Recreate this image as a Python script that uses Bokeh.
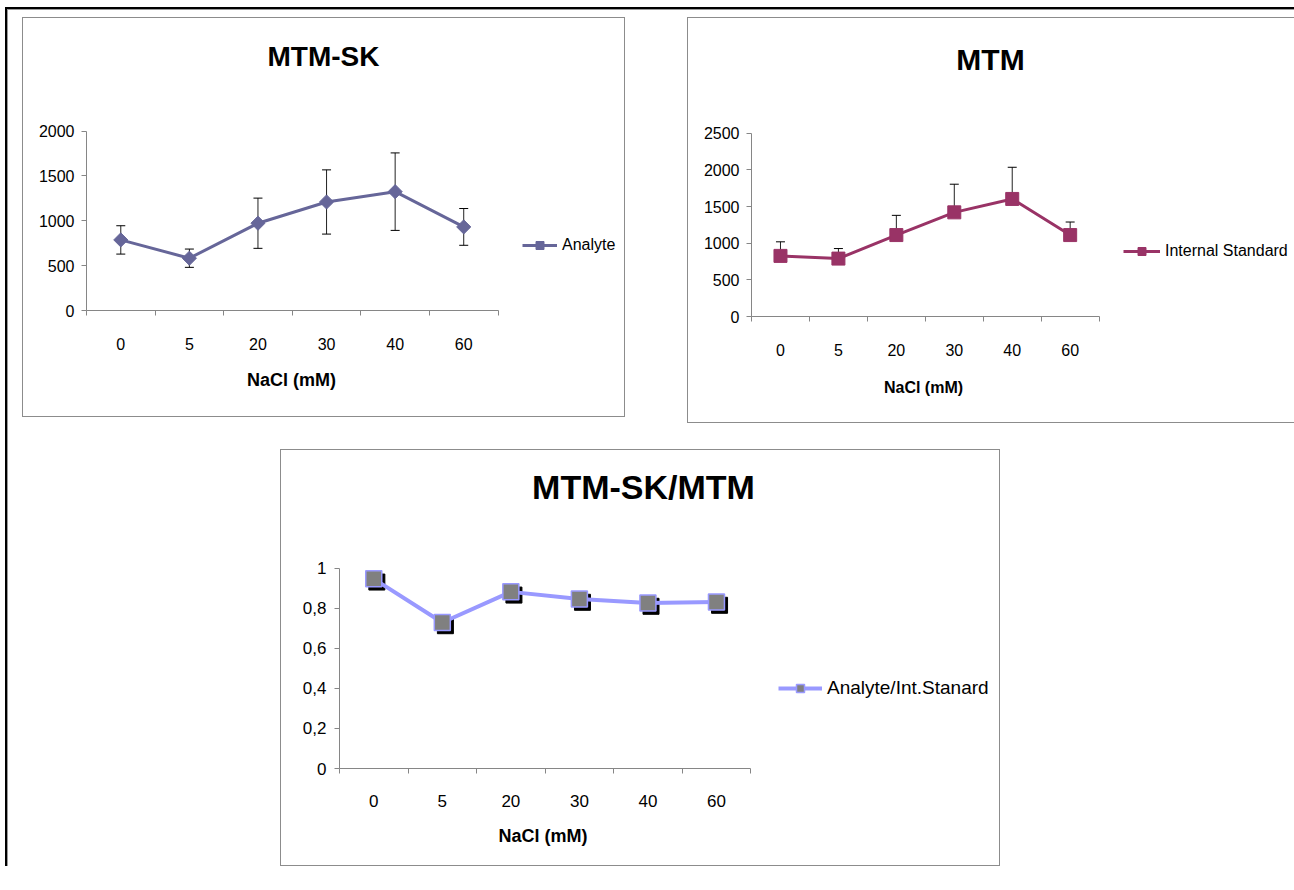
import numpy as np
from bokeh.plotting import figure
from bokeh.models import (Range1d, FixedTicker, ColumnDataSource, Whisker, TeeHead,
                          Legend, LegendItem, Label)
from bokeh.layouts import column, row
from bokeh.transform import dodge
from bokeh.embed import file_html
from bokeh.resources import INLINE

# ---------------- data ----------------
categories = ["0", "5", "20", "30", "40", "60"]
analyte = [787, 583, 973, 1210, 1325, 932]
analyte_err = [158, 102, 280, 358, 432, 205]
internal_std = [827, 790, 1111, 1421, 1604, 1111]
internal_err = [192, 137, 269, 384, 432, 178]
ratio = [0.947, 0.729, 0.882, 0.846, 0.826, 0.831]
ratio_ticks = [0, 0.2, 0.4, 0.6, 0.8, 1]
ratio_tick_labels = ["0", "0,2", "0,4", "0,6", "0,8", "1"]
analyte_ticks = [0, 500, 1000, 1500, 2000]
internal_ticks = [0, 500, 1000, 1500, 2000, 2500]
x_title = "NaCl (mM)"

FONT = "'Liberation Sans', Arial, sans-serif"
AX = "#868686"
PANEL_BORDER = "1px solid #8c8c8c"
NBSP = "\u00a0"

xs = [i + 0.5 for i in range(len(categories))]
bounds = list(range(len(categories) + 1))
ncat = len(categories)


def make_fig(width, height, left, bottom, axis_px_w, axis_px_h, y_max, yticks, css,
             tick_size, label_size, xl_standoff, xa_standoff, yl_standoff, label_pad):
    """Frame spans the panel to the right and top; the axes are bounded to the data part."""
    canvas_w = width - (2 if "border" in css else 1)
    canvas_h = height - 2
    frame_w = canvas_w - left
    frame_h = canvas_h - bottom
    x_end = ncat * frame_w / axis_px_w
    y_end = y_max * frame_h / axis_px_h
    p = figure(width=width, height=height, min_border_left=left, min_border_right=0,
               min_border_top=0, min_border_bottom=bottom,
               x_range=Range1d(0, x_end), y_range=Range1d(0, y_end),
               toolbar_location=None, output_backend="svg", tools="")
    p.outline_line_color = None
    p.grid.visible = False
    p.background_fill_color = "white"
    p.border_fill_color = "white"
    p.styles = css
    xa = p.xaxis[0]
    xa.bounds = (0, ncat)
    xa.ticker = FixedTicker(ticks=xs, minor_ticks=bounds)
    xa.major_label_overrides = {x: c for x, c in zip(xs, categories)}
    xa.major_tick_out = 0
    xa.major_tick_in = 0
    xa.minor_tick_out = 5
    xa.minor_tick_in = 0
    xa.minor_tick_line_color = AX
    xa.axis_line_color = AX
    xa.major_label_text_font = FONT
    xa.major_label_text_font_size = tick_size
    xa.major_label_text_color = "black"
    xa.major_label_standoff = xl_standoff
    # trailing no-break spaces keep the title centred under the bounded axis
    xa.axis_label = x_title + NBSP * label_pad
    xa.axis_label_text_font = FONT
    xa.axis_label_text_font_style = "bold"
    xa.axis_label_text_font_size = label_size
    xa.axis_label_text_color = "black"
    xa.axis_label_standoff = xa_standoff
    ya = p.yaxis[0]
    ya.bounds = (0, y_max)
    ya.ticker = FixedTicker(ticks=yticks, minor_ticks=[])
    ya.major_tick_out = 5
    ya.major_tick_in = 0
    ya.major_tick_line_color = AX
    ya.minor_tick_line_color = None
    ya.axis_line_color = AX
    ya.major_label_text_font = FONT
    ya.major_label_text_font_size = tick_size
    ya.major_label_text_color = "black"
    ya.major_label_standoff = yl_standoff
    return p


def add_title(p, text, x, y, size):
    p.add_layout(Label(x=x, y=y, x_units="screen", y_units="screen", text=text,
                       text_font=FONT, text_font_style="bold", text_font_size=size,
                       text_align="center", text_baseline="middle", text_color="black"))


def add_legend(p, items, x, y, glyph_width, size):
    lg = Legend(items=items, location=(x, y), padding=0, margin=0, spacing=0,
                glyph_width=glyph_width, glyph_height=20, label_height=20,
                label_standoff=5, border_line_color=None, background_fill_alpha=0,
                label_text_font=FONT, label_text_font_size=size,
                label_text_color="black")
    p.add_layout(lg, "center")


# ---------------- panel 1: MTM-SK ----------------
p1 = make_fig(603, 400, 63, 105, 410, 180, 2000, analyte_ticks,
              {"border": PANEL_BORDER}, "16px", "18px", 22, 17, 7, 26)
src1 = ColumnDataSource(dict(x=xs, y=analyte,
                             lo=[v - e for v, e in zip(analyte, analyte_err)],
                             hi=[v + e for v, e in zip(analyte, analyte_err)]))
l1 = p1.line("x", "y", source=src1, line_color="#666699", line_width=3)
m1 = p1.scatter("x", "y", source=src1, marker="square", angle=np.pi / 4, size=10,
                fill_color="#666699", line_color="#666699")
p1.add_layout(Whisker(source=src1, base="x", lower="lo", upper="hi", dimension="height",
                      line_color="#222222", line_width=1,
                      upper_head=TeeHead(size=9, line_color="black", line_width=1),
                      lower_head=TeeHead(size=9, line_color="black", line_width=1)))
add_title(p1, "MTM-SK", 237, 254, "28px")
add_legend(p1, [LegendItem(label="Analyte", renderers=[l1, m1])], 436, 55, 35, "16px")

# ---------------- panel 2: MTM ----------------
p2 = make_fig(607, 406, 63, 108, 347, 182, 2500, internal_ticks,
              {"border-left": PANEL_BORDER, "border-top": PANEL_BORDER,
               "border-bottom": PANEL_BORDER},
              "16px", "16px", 22, 20, 7, 45)
src2 = ColumnDataSource(dict(x=xs, y=internal_std,
                             hi=[v + e for v, e in zip(internal_std, internal_err)]))
p2.add_layout(Whisker(source=src2, base="x", lower="y", upper="hi", dimension="height",
                      line_color="#222222", line_width=1, level="underlay",
                      upper_head=TeeHead(size=9, line_color="black", line_width=1),
                      lower_head=None))
l2 = p2.line("x", "y", source=src2, line_color="#993366", line_width=3)
m2 = p2.scatter("x", "y", source=src2, marker="square", size=13,
                fill_color="#993366", line_color="#993366")
add_title(p2, "MTM", 239, 257, "30px")
add_legend(p2, [LegendItem(label="Internal Standard", renderers=[l2, m2])], 372, 55, 37, "16px")

# ---------------- panel 3: MTM-SK/MTM ----------------
p3 = make_fig(720, 417, 58, 99, 410, 199, 1, ratio_ticks,
              {"border": PANEL_BORDER}, "17px", "18px", 21, 16, 8, 51)
p3.yaxis[0].major_label_overrides = {t: s for t, s in zip(ratio_ticks, ratio_tick_labels)}
src3 = ColumnDataSource(dict(x=xs, y=ratio))
p3.scatter(dodge("x", 0.045), dodge("y", -0.016), source=src3, marker="square", size=16,
           fill_color="black", line_color="black")
l3 = p3.line("x", "y", source=src3, line_color="#9999FF", line_width=4)
m3 = p3.scatter("x", "y", source=src3, marker="square", size=16,
                fill_color="#808080", line_color="#9999FF", line_width=1.5)
add_title(p3, "MTM-SK/MTM", 304, 282, "34px")
add_legend(p3, [LegendItem(label="Analyte/Int.Stanard", renderers=[l3, m3])], 439, 69, 44, "19px")

# ---------------- layout ----------------
p1.margin = (8, 0, 0, 15)
p2.margin = (8, 0, 0, 62)
p3.margin = (26, 0, 0, 273)
root = column(row(p1, p2), p3, margin=(7, 0, 0, 5),
              styles={"border-top": "2px solid black", "border-left": "2px solid black",
                      "box-shadow": "inset 1px 1px 0 0 #9a9a9a",
                      "background-color": "white"})

open("out.html", "w").write(file_html(root, INLINE))
